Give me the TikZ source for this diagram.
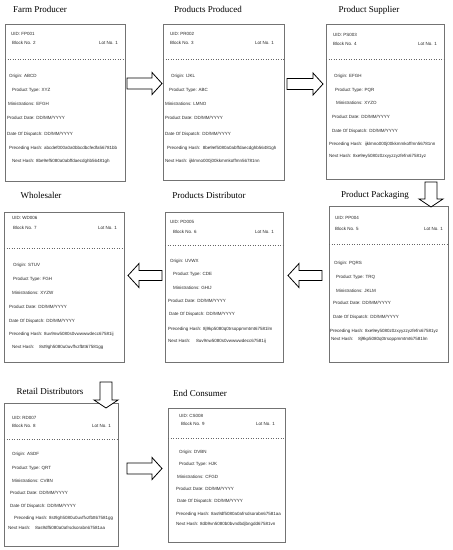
\documentclass[tikz,border=0pt]{standalone}
\usepackage{fontspec}
\setmainfont{Liberation Serif}
\setsansfont{Liberation Sans}
\tikzset{
  txt/.style={inner sep=0pt, font=\sffamily\fontsize{4.5}{5}\selectfont, text=black!85},
  ttl/.style={inner sep=0pt, font=\rmfamily\fontsize{9}{10}\selectfont},
  bx/.style={draw=black!55, line width=0.7pt, fill=white, inner sep=0pt},
  sep/.style={draw=black!60, line width=0.5pt, dotted},
  blkarrow/.style={draw=black, line width=0.8pt, fill=white, line join=miter}
}
\newcommand\tx[4]{\node[txt,anchor=west] (#1) at (#2,#3) {#4};}
\newcommand\tr[4]{\node[txt,anchor=east] (#1) at (#2,#3) {#4};}
\newcommand\bxx[5]{\node[bx,anchor=north west,minimum width={#4-#2},minimum height={#5-#3}] (#1) at (#2,#3) {};}
% right arrow: tail x, center y, tip x
\newcommand\rarr[3]{\draw[blkarrow] (#1,#2-5.5) -- (#3-10,#2-5.5) -- (#3-10,#2-11) -- (#3,#2) -- (#3-10,#2+11) -- (#3-10,#2+5.5) -- (#1,#2+5.5) -- cycle;}
% left arrow: tail x, center y, tip x
\newcommand\larr[3]{\draw[blkarrow] (#1,#2-5) -- (#3+11,#2-5) -- (#3+11,#2-12) -- (#3,#2) -- (#3+11,#2+12) -- (#3+11,#2+5) -- (#1,#2+5) -- cycle;}
% down arrow: center x, tail y, tip y
\newcommand\darr[3]{\draw[blkarrow] (#1-6,#2) -- (#1-6,#3-8) -- (#1-12,#3-8) -- (#1,#3) -- (#1+12,#3-8) -- (#1+6,#3-8) -- (#1+6,#2) -- cycle;}
\begin{document}
\begin{tikzpicture}[x=1pt,y=-1pt]
\useasboundingbox (0,0) rectangle (453,550);
% ---------- titles
\node[ttl] (t1) at (40,9) {Farm Producer};
\node[ttl] (t2) at (208,9) {Products Produced};
\node[ttl] (t3) at (369,10) {Product Supplier};
\node[ttl] (t4) at (375,195) {Product Packaging};
\node[ttl] (t5) at (209,195) {Products Distributor};
\node[ttl] (t6) at (41,195) {Wholesaler};
\node[ttl] (t7) at (50,391) {Retail Distributors};
\node[ttl] (t8) at (200,393) {End Consumer};
% ---------- boxes
\bxx{b1}{5}{24}{125}{181}
\bxx{b2}{163}{24}{284}{180}
\bxx{b3}{326}{24}{444}{179}
\bxx{b4}{329}{206}{448}{362}
\bxx{b5}{165}{212}{283}{362}
\bxx{b6}{4}{212}{124}{362}
\bxx{b7}{4}{403}{118}{546}
\bxx{b8}{168}{408}{285}{542}
\draw[sep] (5,59) -- (125,59);
\draw[sep] (163,59) -- (284,59);
\draw[sep] (326,59) -- (444,59);
\draw[sep] (329,244) -- (448,244);
\draw[sep] (165,245) -- (283,245);
\draw[sep] (4,248) -- (124,248);
\draw[sep] (4,439) -- (118,439);
\draw[sep] (168,438) -- (285,438);
% ---------- block 1
\tx{b1uid}{11}{34}{UID: FP001}
\tx{b1blk}{12}{43}{Block No. 2}
\tr{b1lot}{118}{43}{Lot No. 1}
\tx{b1or}{9}{76}{Origin: ABCD}
\tx{b1ty}{12}{90}{Product Type: XYZ}
\tx{b1mi}{8}{104}{Ministrations: EFGH}
\tx{b1pd}{7}{118}{Product Date: DD/MM/YYYY}
\tx{b1dd}{7}{134}{Date Of Dispatch: DD/MM/YYYY}
\tx{b1ph}{9}{148}{Preceding Hash: abcdef000a0a0bbcdbcfedfa56781bb}
\tx{b1nh}{12}{161}{Next Hash: 8be9ef5080a0abffdaecdghb56481gh}
% ---------- block 2
\tx{b2uid}{170}{34}{UID: PR002}
\tx{b2blk}{170}{43}{Block No. 3}
\tr{b2lot}{274}{43}{Lot No. 1}
\tx{b2or}{171}{76}{Origin: IJKL}
\tx{b2ty}{169}{90}{Product Type: ABC}
\tx{b2mi}{165}{104}{Ministrations: LMNO}
\tx{b2pd}{165}{118}{Product Date: DD/MM/YYYY}
\tx{b2dd}{165}{134}{Date Of Dispatch: DD/MM/YYYY}
\tx{b2ph}{167}{148}{Preceding Hash:\ \ 8be9ef5080a0abffdaecdghb56481gh}
\tx{b2nh}{165}{161}{Next Hash: ijklmno000j00kkmmkoffmn56781nn}
% ---------- block 3
\tx{b3uid}{333}{35}{UID: PS003}
\tx{b3blk}{333}{44}{Block No. 4}
\tr{b3lot}{437}{44}{Lot No. 1}
\tx{b3or}{334}{76}{Origin: EFGH}
\tx{b3ty}{335}{90}{Product Type: PQR}
\tx{b3mi}{336}{103}{Ministrations: XYZO}
\tx{b3pd}{332}{117}{Product Date: DD/MM/YYYY}
\tx{b3dd}{332}{131}{Date Of Dispatch: DD/MM/YYYY}
\tx{b3ph}{329}{144}{Preceding Hash:\ \ ijklmno000j00kkmmkoffmn56781nn}
\tx{b3nh}{329}{156}{Next Hash: 8xe9ey5080z0zxyyzzyzfefrx67581yz}
% ---------- block 4
\tx{b4uid}{335}{218}{UID: PP004}
\tx{b4blk}{335}{229}{Block No. 5}
\tr{b4lot}{443}{229}{Lot No. 1}
\tx{b4or}{334}{263}{Origin: PQRS}
\tx{b4ty}{336}{277}{Product Type: TRQ}
\tx{b4mi}{336}{291}{Ministrations: JKLM}
\tx{b4pd}{333}{303}{Product Date: DD/MM/YYYY}
\tx{b4dd}{333}{317}{Date Of Dispatch: DD/MM/YYYY}
\tx{b4ph}{330}{331}{Preceding Hash: 8xe9ey5080z0zxyyzzyzfefrx67581yz}
\tx{b4nh}{331}{339}{Next Hash:\hspace{5pt}8j9kp5080q0trsoppmmtmt67581lm}
% ---------- block 5
\tx{b5uid}{170}{222}{UID: PD005}
\tx{b5blk}{173}{232}{Block No. 6}
\tr{b5lot}{274}{232}{Lot No. 1}
\tx{b5or}{170}{261}{Origin: UVWX}
\tx{b5ty}{173}{274}{Product Type: CDE}
\tx{b5mi}{173}{288}{Ministrations: GHIJ}
\tx{b5pd}{168}{301}{Product Date: DD/MM/YYYY}
\tx{b5dd}{169}{314}{Date Of Dispatch: DD/MM/YYYY}
\tx{b5ph}{168}{329}{Preceding Hash: 8j9kp5080q0trsoppmmtmt67581lm}
\tx{b5nh}{168}{341}{Next Hash:\hspace{6pt}8uv9nw5080s0vwwwwdecc67581ij}
% ---------- block 6
\tx{b6uid}{12}{218}{UID: WD006}
\tx{b6blk}{13}{228}{Block No. 7}
\tr{b6lot}{117}{228}{Lot No. 1}
\tx{b6or}{13}{265}{Origin: STUV}
\tx{b6ty}{13}{279}{Product Type: FGH}
\tx{b6mi}{12}{293}{Ministrations: XYZW}
\tx{b6pd}{9}{307}{Product Date: DD/MM/YYYY}
\tx{b6dd}{9}{321}{Date Of Dispatch: DD/MM/YYYY}
\tx{b6ph}{9}{334}{Preceding Hash: 8uv9nw5080s0vwwwwdecc67581ij}
\tx{b6nh}{12}{347}{Next Hash:\hspace{5pt}8st9gh5080u0uvffvzfbtt67581gg}
% ---------- block 7
\tx{b7uid}{12}{418}{UID: RD007}
\tx{b7blk}{12}{426}{Block No. 8}
\tr{b7lot}{111}{426}{Lot No. 1}
\tx{b7or}{12}{454}{Origin: ASDF}
\tx{b7ty}{12}{468}{Product Type: QRT}
\tx{b7mi}{12}{481}{Ministrations: CVBN}
\tx{b7pd}{10}{493}{Product Date: DD/MM/YYYY}
\tx{b7dd}{10}{506}{Date Of Dispatch: DD/MM/YYYY}
\tx{b7ph}{14}{518}{Preceding Hash: 8st9gh5080u0uvffvzfbtt67581gg}
\tx{b7nh}{8}{528}{Next Hash:\hspace{5pt}8as9df5080a0afrsdsorabn67581aa}
% ---------- block 8
\tx{b8uid}{179}{416}{UID: CS008}
\tx{b8blk}{181}{424}{Block No. 9}
\tr{b8lot}{275}{424}{Lot No. 1}
\tx{b8or}{179}{452}{Origin: DVBN}
\tx{b8ty}{179}{464}{Product Type: HJK}
\tx{b8mi}{177}{477}{Ministrations: CFGD}
\tx{b8pd}{176}{489}{Product Date: DD/MM/YYYY}
\tx{b8dd}{177}{501}{Date Of Dispatch: DD/MM/YYYY}
\tx{b8ph}{176}{514}{Preceding Hash: 8as9df5080a0afrsdsorabn67581aa}
\tx{b8nh}{176}{524}{Next Hash: 8db9vn5080b0bvndbdjbngdd67581vn}
% ---------- block arrows
\rarr{127}{83.5}{162}
\rarr{287}{84}{323}
\darr{431}{182}{207}
\larr{322}{275.5}{288}
\larr{162}{275.5}{128}
\darr{106}{382}{408}
\rarr{127}{468.5}{162}
\end{tikzpicture}
\end{document}
